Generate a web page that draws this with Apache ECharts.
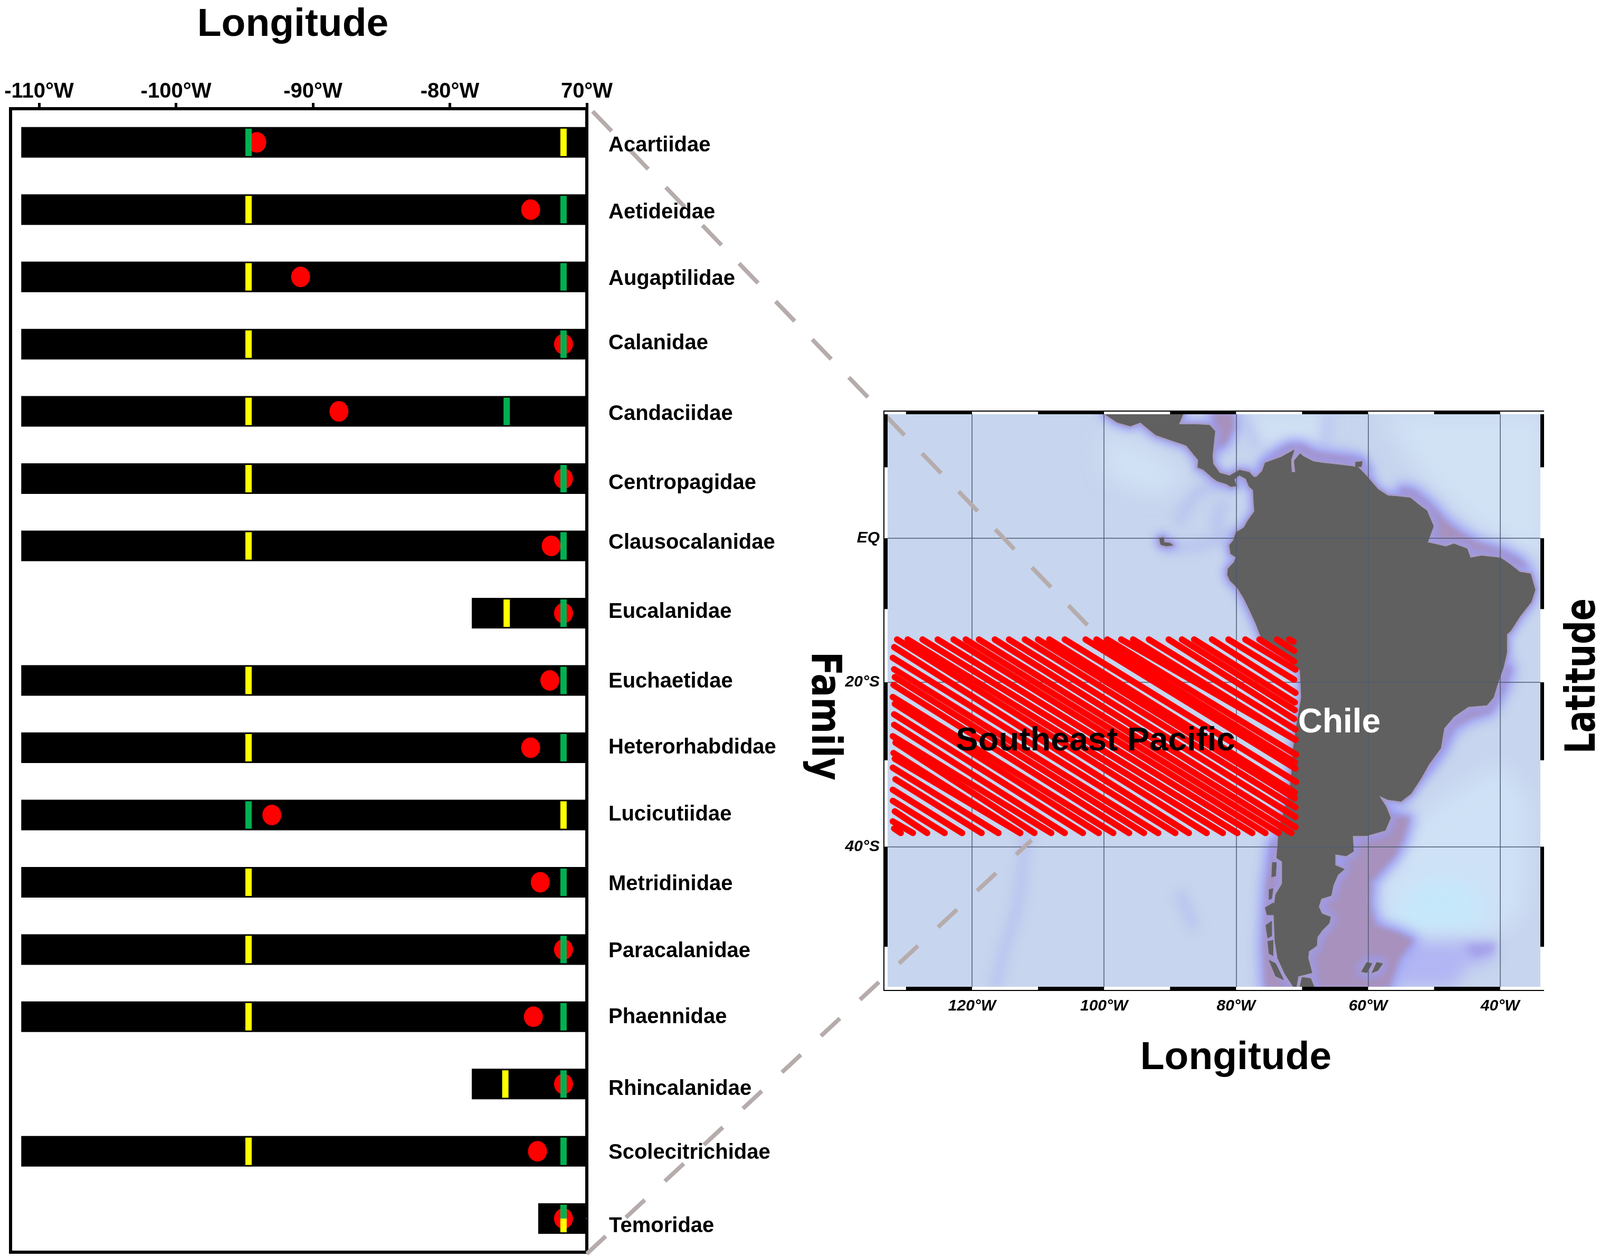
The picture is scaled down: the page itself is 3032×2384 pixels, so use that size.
<!DOCTYPE html>
<html>
<head>
<meta charset="utf-8">
<style>html,body{margin:0;padding:0;background:#fff}#chart{width:3032px;height:2384px}</style>
<script src="https://cdn.jsdelivr.net/npm/echarts@6/dist/echarts.min.js"></script>
</head>
<body>
<div id="chart"></div>
<script>
// left panel: longitude range per family
const families = ['Acartiidae','Aetideidae','Augaptilidae','Calanidae','Candaciidae','Centropagidae','Clausocalanidae','Eucalanidae','Euchaetidae','Heterorhabdidae','Lucicutiidae','Metridinidae','Paracalanidae','Phaennidae','Rhincalanidae','Scolecitrichidae','Temoridae'];
const rangeWest = [-111.3,-111.3,-111.3,-111.3,-111.3,-111.3,-111.3,-78.4,-111.3,-111.3,-111.3,-111.3,-111.3,-111.3,-78.4,-111.3,-73.55];
const yellowLon = [-71.7,-94.7,-94.7,-94.7,-94.7,-94.7,-94.7,-75.85,-94.7,-94.7,-71.7,-94.7,-94.7,-94.7,-75.95,-94.7,-71.7];
const greenLon = [-94.7,-71.7,-71.7,-71.7,-75.85,-71.7,-71.7,-71.7,-71.7,-71.7,-94.7,-71.7,-71.7,-71.7,-71.7,-71.7,-71.7];
const redLon = [-94.1,-74.1,-90.9,-71.7,-88.1,-71.7,-72.6,-71.7,-72.7,-74.1,-93.0,-73.4,-71.7,-73.9,-71.7,-73.6,-71.7];
const lonTicks = [-110,-100,-90,-80,-70];
const lonTickLabels = ['-110°W','-100°W','-90°W','-80°W','70°W'];
const labelNudge = [6,6,4,-1,5,9,-6,-2,2,0,0,4,4,1,10,3,15];

// right panel: map ticks
const mapLonTicks = [-120,-100,-80,-60,-40];
const mapLonLabels = ['120°W','100°W','80°W','60°W','40°W'];
const mapLatTicks = [0,-20,-40];
const mapLatLabels = ['EQ','20°S','40°S'];
const blackLon = [[-130,-120],[-110,-100],[-90,-80],[-70,-60],[-50,-40]];
const blackLat = [[17.3,10],[0,-10],[-20,-30],[-40,-50]];

// coastlines, [lon, lat]
const landMain = [[-100,17.4],[-98,16.2],[-96,15.7],[-94.5,16.2],[-92.2,14.5],[-90,13.8],[-88,13.2],[-87.5,13],[-85.7,11],[-85.8,10],[-85,9.7],[-83.5,8.5],[-82.9,8.1],[-81.5,7.7],[-80.8,7.3],[-80,7.4],[-80.3,8.3],[-79.5,8.9],[-78.5,8.4],[-78,7.3],[-77.4,6.8],[-77.3,5],[-77.2,3.8],[-78.2,2.5],[-78.8,1.5],[-80,0.8],[-80.4,-0.3],[-81,-1],[-80.8,-2.2],[-80,-2.7],[-80.3,-3.4],[-81.2,-4.3],[-81.3,-5.2],[-80.9,-6],[-79.8,-7],[-78.8,-8.5],[-78,-10],[-77,-12],[-76.2,-13.9],[-75,-15.4],[-72.5,-16.8],[-71,-17.8],[-70.3,-18.4],[-70.2,-20],[-70.1,-22],[-70.5,-24],[-70.9,-26],[-71.4,-29],[-71.6,-32],[-72,-34],[-73,-36.8],[-73.5,-38],[-73.7,-40],[-73.85,-41.2],[-73,-41.6],[-73,-43.9],[-74,-45],[-74.3,-46.5],[-74.2,-48],[-74.1,-49.5],[-73.7,-51],[-72.6,-52.4],[-71.2,-53.6],[-70.9,-53.6],[-70.6,-52.6],[-68.5,-52.3],[-69.1,-51],[-69,-50.4],[-67.8,-49.9],[-67.7,-49.1],[-67,-48.5],[-65.9,-47.8],[-65.7,-47.2],[-67,-46.9],[-67.5,-46.2],[-67.1,-45.4],[-65.6,-45.1],[-65.3,-44.1],[-64.6,-43],[-63.6,-42.4],[-65,-42],[-65,-40.8],[-63.3,-41],[-62.2,-40.5],[-62.35,-38.8],[-60.25,-38.8],[-57.4,-38.2],[-56.6,-36.8],[-57.3,-35.5],[-58.4,-34.2],[-57,-34.7],[-55,-34.9],[-53.5,-34],[-52,-32.2],[-50.8,-30.5],[-49,-28.5],[-48.5,-26],[-47,-24.5],[-44.8,-23.2],[-42,-23],[-41,-22],[-40.5,-20.5],[-39.5,-18],[-39,-16],[-39,-13.5],[-38.4,-13],[-37,-11],[-35.3,-9],[-34.7,-7.3],[-35.4,-5.05],[-37,-4.8],[-38.5,-3.7],[-39.9,-2.8],[-42.8,-2.5],[-44.5,-2.8],[-45,-1.5],[-47,-0.8],[-48.2,-1.2],[-51,-0.6],[-50.1,1.7],[-51.1,3.9],[-52,4.5],[-53.6,5.7],[-55.5,5.9],[-57,6],[-58.5,6.9],[-60.2,8.75],[-61.5,10],[-64,10.3],[-67,10.6],[-68.3,10.8],[-69.8,11.5],[-70.3,11.9],[-71.2,10.9],[-71,9.3],[-71.6,9.3],[-71.7,11],[-71.2,12.4],[-73.2,11.4],[-75.6,10.6],[-76,9.5],[-76.9,8.65],[-77.3,8.6],[-78,9.3],[-79.5,9.6],[-81,8.8],[-82.5,9.2],[-83.5,10.5],[-83.6,11.6],[-83.2,15],[-84,15.8],[-86,15.9],[-88.7,15.9],[-88,17.4]];
const landFuego = [[-70.35,-53.6],[-70,-52.7],[-68.7,-52.8],[-68.1,-53.6]];
const landGalapagos = [[-91.6,0],[-91,0.1],[-90.9,-0.6],[-90,-0.7],[-89.6,-1],[-90.6,-1.1],[-91.4,-0.9]];
const landFalklandW = [[-61,-52.2],[-60.2,-51.4],[-59.4,-51.5],[-60.2,-52.3]];
const landFalklandE = [[-59.4,-52.3],[-58.7,-51.4],[-57.8,-51.5],[-58.5,-52.1]];
const landChiloe = [[-74.5,-41.7],[-73.9,-41.7],[-74,-43.1],[-74.6,-43.2]];
const landTaitao = [[-75.6,-46.3],[-74.3,-45.8],[-74.2,-47],[-75.3,-47]];
const landIsles1 = [[-75,-44.5],[-74.4,-44.4],[-74.6,-45.4],[-75,-45.5]];
const landIsles2 = [[-75.5,-48],[-74.6,-47.6],[-74.6,-49],[-75.2,-49.2]];
const landIsles3 = [[-75.2,-49.5],[-74.4,-49.4],[-74.4,-50.8],[-75,-50.6]];
const landIsles4 = [[-75,-51.2],[-74,-51.5],[-72.8,-52.9],[-74,-52.6]];
const landTrinidad = [[-61.9,10.7],[-60.9,10.8],[-61,10.1],[-61.9,10.1]];

// shelf and water patches
const shelfPatagonia = [[-60,-36],[-53.8,-36.8],[-54.7,-39.2],[-56,-41],[-58.6,-43],[-59.55,-43.7],[-59.7,-46.2],[-58.85,-48],[-55.5,-48.7],[-53.2,-49.4],[-55.2,-51],[-56.9,-53.6],[-72,-53.6],[-66,-44]];
const shelfChile = [[-74.4,-39.5],[-75.3,-44],[-75.8,-50],[-75.5,-53.6],[-71,-53.6],[-73,-40]];
const shelfBrazil = [[-53,-31.5],[-51,-30.8],[-48.5,-28],[-47,-25.8],[-44.5,-24.6],[-41.5,-23.8],[-39.6,-21],[-38.4,-18],[-42,-18],[-52,-25]];
const shelfGuiana = [[-55,7],[-53,6.6],[-50.5,4.6],[-48.2,2.3],[-46,0.7],[-43.5,-0.7],[-40,-1.7],[-37.4,-3],[-36,-4],[-40,-4],[-50,-1],[-55,4]];
const shelfCaribbean = [[-83.4,17.4],[-80.6,17.4],[-80.4,15.5],[-81.5,13.5],[-83.3,12.5]];
const shelfVenezuela = [[-76,9.5],[-74.5,11.5],[-72,13],[-70,13],[-68,12],[-62,11.2],[-60,9.5],[-64,9],[-72,8]];
const paleAtlantic = [[-52,-36],[-40,-30],[-35,-35],[-36,-47],[-41,-49],[-50,-49],[-57,-48],[-59,-44],[-56,-40]];
const paleCyan = [[-56,-46],[-50,-43],[-44,-44],[-42,-48],[-50,-48.7],[-56,-48]];
const paleNE = [[-58,17.4],[-33,17.4],[-33,-3],[-44,2],[-52,9]];
const paleCaribbean = [[-78.5,17.4],[-66,17.4],[-66,12.8],[-75,12.8],[-78.5,13.5]];
const paleCentral = [[-100,15],[-92,12],[-87,8],[-93,6],[-100,9]];
const bluePatagonia = [[-54,-49.5],[-41,-49.5],[-41,-51.2],[-45,-51.8],[-47,-53.5],[-56,-53.5]];
const blueDeep = [[-45.5,-49.8],[-40.5,-49.6],[-41,-50.6],[-44,-51]];

// faint blue streaks in the water
const streakPanama = [[-81.5,7.9],[-85.4,6.9],[-87.4,4.7],[-88.6,2.4]];
const streakGalapagos = [[-90.3,-1.4],[-86,-1.1],[-81,0.3]];
const streakPeru = [[-82,5],[-83,2.5],[-82.5,1]];
const streakSouth = [[-111.5,-37],[-112,-40],[-113,-46],[-115,-50],[-116.5,-53.5]];
const streakMid = [[-88.5,-45],[-86.5,-48]];
const streakCaribbean = [[-78.5,16.5],[-77,13]];
const streakMona = [[-66,17],[-66.5,13.5]];

// survey track, one stroke per entry: start on the west or north side, end on the south or east side
const trackStartLon = [-131.8,-132,-131.7,-132,-132,-131.6,-132,-131.7,-131.9,-131.6,-132,-131.8,-131.8,-131.7,-132,-131.9,-131.7,-131.8,-132,-131.8,-131.35,-129.75,-127.5,-125.2,-122.8,-120.95,-118.95,-116.55,-114.4,-112,-110,-108.3,-105.95,-102.8,-101.15,-99.5,-97.4,-95.6,-93.2,-90.2,-88.2,-86.35,-83.65,-81.15,-78.6,-76.45,-73.8,-71.95];
const trackStartLat = [-38,-37.2,-36.05,-34.85,-33.55,-32.3,-30.9,-29.8,-29.1,-27.8,-27,-25.55,-24.2,-22.85,-21.95,-20.35,-19.3,-18.25,-16.7,-15.25,-14.2,-14.2,-14.2,-14.2,-14.2,-14.2,-14.2,-14.2,-14.2,-14.2,-14.2,-14.2,-14.2,-14.2,-14.2,-14.2,-14.2,-14.2,-14.2,-14.2,-14.2,-14.2,-14.2,-14.2,-14.2,-14.2,-14.2,-14.2];
const trackEndLon = [-130.8,-128.95,-126.8,-124.15,-121.5,-118.55,-116,-112.7,-112.7,-110.55,-108,-105.95,-103.2,-100.8,-98.6,-96.2,-93.95,-91.8,-89.2,-87.15,-84.45,-82,-79.8,-77.55,-75.55,-73.55,-71.6,-71,-71,-71,-71.1,-71.1,-70.9,-71,-71.1,-70.9,-71,-71,-71,-71.2,-71.1,-71.1,-71,-71.2,-71,-71.2,-71.2,-71.3];
const trackEndLat = [-38.5,-38.5,-38.5,-38.5,-38.5,-38.5,-38.5,-38.5,-38.5,-38.5,-38.5,-38.5,-38.5,-38.5,-38.5,-38.5,-38.5,-38.5,-38.5,-38.5,-38.5,-38.5,-38.5,-38.5,-38.5,-38.5,-38.5,-37.85,-36.7,-35.6,-34.55,-33.85,-32.6,-31,-30.25,-29.3,-27.45,-27.45,-26.15,-24.8,-23.65,-22.65,-21.4,-19.65,-18.3,-17.2,-15.75,-14.5];

const merc = lat => Math.log(Math.tan(Math.PI / 4 + lat * Math.PI / 360));

function polySeries(name, rings, style, z, closed) {
    return {
        type: 'custom',
        name: name,
        coordinateSystem: 'cartesian2d',
        xAxisIndex: 1,
        yAxisIndex: 1,
        clip: true,
        silent: true,
        z: z,
        data: rings.map((r, i) => [i]),
        renderItem: function (params, api) {
            const ring = rings[api.value(0)];
            return {
                type: closed === false ? 'polyline' : 'polygon',
                shape: { points: ring.map(p => api.coord([p[0], merc(p[1])])) },
                style: style
            };
        }
    };
}

// only the blurred shadow lands on the map, the shape itself sits off the canvas
function softSeries(name, rings, color, blur, z, strokeWidth, closed) {
    const off = 6000;
    const s = polySeries(name, rings, null, z, closed);
    s.renderItem = function (params, api) {
        const ring = rings[api.value(0)];
        return {
            type: closed === false ? 'polyline' : 'polygon',
            shape: {
                points: ring.map(p => {
                    const c = api.coord([p[0], merc(p[1])]);
                    return [c[0] - off, c[1]];
                })
            },
            style: {
                fill: closed === false ? 'none' : '#000',
                stroke: strokeWidth ? '#000' : 'none',
                lineWidth: strokeWidth || 0,
                lineJoin: 'round',
                lineCap: 'round',
                shadowColor: color,
                shadowBlur: blur,
                shadowOffsetX: off
            }
        };
    };
    return s;
}

const chart = echarts.init(document.getElementById('chart'), null, { renderer: 'canvas' });

const tickMark = (color, z, values) => ({
    type: 'scatter',
    name: color,
    xAxisIndex: 0,
    yAxisIndex: 0,
    symbol: 'rect',
    symbolSize: [12, 52],
    itemStyle: { color: color, opacity: 1 },
    z: z,
    clip: false,
    data: values
});

const greenData = greenLon.map((v, i) => families[i] === 'Temoridae'
    ? { value: [v, families[i]], symbolSize: [12, 26], symbolOffset: [0, -13] }
    : { value: [v, families[i]] });

const track = trackStartLon.map((lon, i) => [[lon, trackStartLat[i]], [trackEndLon[i], trackEndLat[i]]]);
const coastLand = [landMain, landFuego, landGalapagos, landFalklandW, landFalklandE, landTrinidad];
const allLand = coastLand.concat([landChiloe, landTaitao, landIsles1, landIsles2, landIsles3, landIsles4]);
const allShelf = [shelfPatagonia, shelfChile, shelfBrazil, shelfGuiana, shelfCaribbean, shelfVenezuela];

const option = {
    animation: false,
    backgroundColor: '#ffffff',
    textStyle: { fontFamily: 'Liberation Sans' },
    grid: [
        { left: 20, top: 206, width: 1092, height: 2167, show: true, borderColor: '#000', borderWidth: 6, backgroundColor: '#fff' },
        { left: 1682, top: 785, width: 1237, height: 1085, show: true, borderWidth: 0, backgroundColor: '#c7d5ee' }
    ],
    xAxis: [
        {
            type: 'value', gridIndex: 0, position: 'top', min: -112.08, max: -70,
            axisLine: { show: false },
            splitLine: { show: false },
            axisTick: { show: true, length: 11, customValues: lonTicks, lineStyle: { color: '#000', width: 5 } },
            axisLabel: {
                customValues: lonTicks, margin: 12, color: '#000', fontSize: 40, fontWeight: 'bold',
                formatter: v => lonTickLabels[lonTicks.indexOf(v)]
            }
        },
        {
            type: 'value', gridIndex: 1, position: 'bottom', min: -132.79, max: -33.9, z: 3,
            axisLine: { show: false },
            axisTick: { show: false, customValues: mapLonTicks },
            splitLine: { show: true, lineStyle: { color: '#4d5a70', width: 1.5 } },
            axisLabel: {
                customValues: mapLonTicks, margin: 22, color: '#000', fontSize: 30, fontWeight: 'bold', fontStyle: 'italic',
                formatter: v => mapLonLabels[mapLonTicks.indexOf(v)]
            }
        }
    ],
    yAxis: [
        {
            type: 'category', gridIndex: 0, inverse: true, data: families,
            axisLine: { show: false }, axisTick: { show: false }, axisLabel: { show: false }, splitLine: { show: false }
        },
        {
            type: 'value', gridIndex: 1, min: merc(-53.5), max: merc(17.3), z: 3,
            axisLine: { show: false },
            axisTick: { show: false, customValues: mapLatTicks.map(merc) },
            splitLine: { show: true, lineStyle: { color: '#4d5a70', width: 1.5 } },
            axisLabel: {
                customValues: mapLatTicks.map(merc), margin: 15, color: '#000', fontSize: 30, fontWeight: 'bold', fontStyle: 'italic',
                formatter: v => mapLatLabels[mapLatTicks.map(merc).findIndex(m => Math.abs(m - v) < 1e-6)]
            }
        }
    ],
    graphic: [
        { type: 'line', z: 4, silent: true, shape: { x1: 1123, y1: 211, x2: 2061, y2: 1185 }, style: { stroke: '#b6acac', lineWidth: 8, lineDash: [52, 48] } },
        { type: 'line', z: 4, silent: true, shape: { x1: 1112, y1: 2376, x2: 1955, y2: 1592 }, style: { stroke: '#b6acac', lineWidth: 8, lineDash: [49, 52] } },
        { type: 'polyline', z: 6, silent: true, shape: { points: [[2926, 779], [1675, 779], [1675, 1877], [2926, 1877]] }, style: { stroke: '#000', lineWidth: 2, fill: 'none' } },
        { type: 'text', z: 8, silent: true, x: 555, y: 47, style: { text: 'Longitude', fontFamily: 'Liberation Sans', fontWeight: 'bold', fontSize: 75, fill: '#000', align: 'center', verticalAlign: 'middle' } },
        { type: 'text', z: 8, silent: true, x: 2342, y: 2005, style: { text: 'Longitude', fontFamily: 'Liberation Sans', fontWeight: 'bold', fontSize: 75, fill: '#000', align: 'center', verticalAlign: 'middle' } },
        { type: 'text', z: 8, silent: true, x: 3002, y: 1281, rotation: Math.PI / 2, scaleX: 0.8, style: { text: 'Latitude', fontFamily: 'DejaVu Sans', fontWeight: 'bold', fontSize: 78, fill: '#000', align: 'center', verticalAlign: 'middle' } },
        { type: 'text', z: 8, silent: true, x: 1559, y: 1357, rotation: -Math.PI / 2, scaleX: 0.85, style: { text: 'Family', fontFamily: 'DejaVu Sans', fontWeight: 'bold', fontSize: 78, fill: '#000', align: 'center', verticalAlign: 'middle' } },
        { type: 'text', z: 8, silent: true, x: 2076, y: 1404, style: { text: 'Southeast Pacific', fontFamily: 'Liberation Sans', fontWeight: 'bold', fontSize: 63.5, fill: '#000', align: 'center', verticalAlign: 'middle' } },
        { type: 'text', z: 8, silent: true, x: 2538, y: 1370, style: { text: 'Chile', fontFamily: 'Liberation Sans', fontWeight: 'bold', fontSize: 64, fill: '#fff', align: 'center', verticalAlign: 'middle' } }
    ],
    series: [
        // left panel
        {
            type: 'bar', name: 'range', xAxisIndex: 0, yAxisIndex: 0, barWidth: 58, z: 2, clip: true,
            itemStyle: { color: '#000' }, data: rangeWest
        },
        {
            type: 'scatter', name: 'centre', xAxisIndex: 0, yAxisIndex: 0, symbol: 'circle', symbolSize: [36, 39], z: 3, clip: false,
            itemStyle: { color: '#ff0000', opacity: 1 }, data: redLon.map((v, i) => [v, families[i]])
        },
        tickMark('#ffff00', 4, yellowLon.map((v, i) => [v, families[i]])),
        tickMark('#00b050', 5, greenData),
        {
            type: 'scatter', name: 'family', xAxisIndex: 0, yAxisIndex: 0, symbolSize: 0, z: 7, clip: false,
            itemStyle: { opacity: 1 },
            data: families.map((f, i) => ({ value: [-70, f], label: { offset: [0, labelNudge[i]] } })),
            label: { show: true, position: 'right', distance: 41, color: '#000', opacity: 1, fontSize: 40, fontWeight: 'bold', formatter: p => p.value[1] }
        },
        // map, water first
        softSeries('pale', [paleNE, paleCaribbean, paleCentral], 'rgba(211,228,246,0.85)', 45, 1),
        softSeries('atlantic', [paleAtlantic], 'rgba(207,225,245,0.95)', 45, 1),
        softSeries('cyan', [paleCyan], 'rgba(198,232,251,1)', 40, 1),
        softSeries('streaks', [streakPanama, streakGalapagos, streakPeru, streakSouth, streakMid, streakCaribbean, streakMona], 'rgba(165,170,242,0.6)', 22, 1, 14, false),
        softSeries('blue south', [bluePatagonia], 'rgba(172,172,245,0.75)', 28, 1),
        softSeries('blue deep', [blueDeep], 'rgba(158,150,232,0.7)', 14, 1),
        softSeries('shelf glow', allShelf, 'rgba(158,160,246,0.95)', 22, 1.4, 22),
        softSeries('shelf', allShelf, '#a892bd', 8, 1.5, 2),
        softSeries('coast glow', coastLand, 'rgba(155,158,245,0.85)', 16, 1.6, 18),
        softSeries('coast', coastLand, '#a99ac2', 4, 1.7, 7),
        polySeries('land', allLand, { fill: '#606060', stroke: '#606060', lineWidth: 1 }, 2),
        {
            type: 'custom', name: 'frame', coordinateSystem: 'cartesian2d', xAxisIndex: 1, yAxisIndex: 1, clip: false, silent: true, z: 6,
            data: blackLon.map((r, i) => [i]).concat(blackLat.map((r, i) => [i + blackLon.length])),
            renderItem: function (params, api) {
                const i = api.value(0);
                const fill = { fill: '#000' };
                if (i < blackLon.length) {
                    const a = api.coord([blackLon[i][0], merc(17.3)]);
                    const b = api.coord([blackLon[i][1], merc(-53.5)]);
                    return { type: 'group', children: [
                        { type: 'rect', shape: { x: a[0], y: a[1] - 7, width: b[0] - a[0], height: 7 }, style: fill },
                        { type: 'rect', shape: { x: a[0], y: b[1], width: b[0] - a[0], height: 7 }, style: fill }
                    ] };
                }
                const r = blackLat[i - blackLon.length];
                const a = api.coord([-132.79, merc(r[0])]);
                const b = api.coord([-33.9, merc(r[1])]);
                return { type: 'group', children: [
                    { type: 'rect', shape: { x: a[0] - 7, y: a[1], width: 7, height: b[1] - a[1] }, style: fill },
                    { type: 'rect', shape: { x: b[0], y: a[1], width: 7, height: b[1] - a[1] }, style: fill }
                ] };
            }
        },
        polySeries('track', track, { fill: 'none', stroke: '#ff0000', lineWidth: 12, lineCap: 'round' }, 5, false)
    ]
};

chart.setOption(option);
</script>
</body>
</html>
